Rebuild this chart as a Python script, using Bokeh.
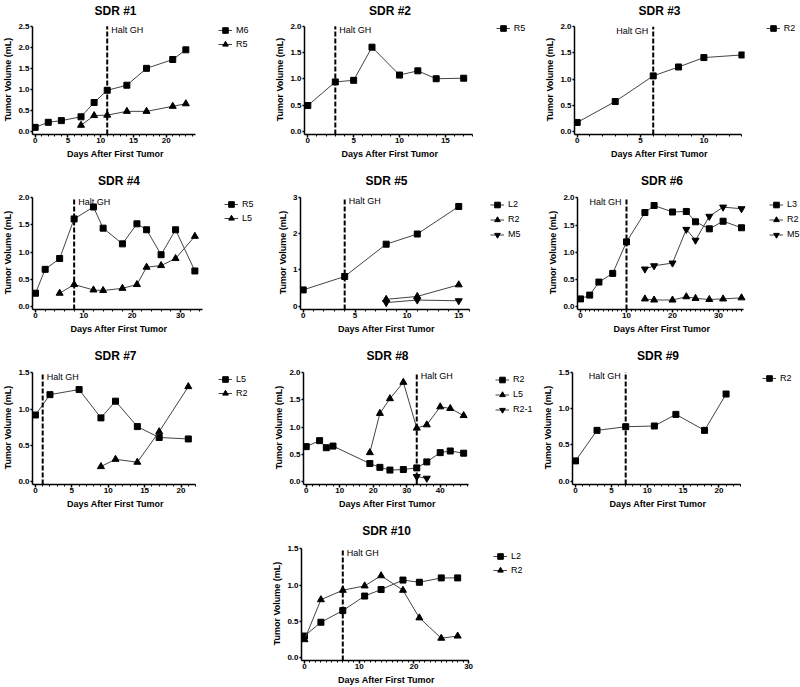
from math import pi
from bokeh.plotting import figure
from bokeh.models import (Range1d, SingleIntervalTicker, FixedTicker, PrintfTickFormatter,
                          LinearAxis, Legend, LegendItem, Spacer)
from bokeh.layouts import row, column
from bokeh.embed import file_html
from bokeh.resources import INLINE
from bokeh.core.properties import value

# ---------------- data (days after first tumor, tumor volume in mL) ----------------
sdr1_m6_days = [0, 2, 4, 7, 9, 11, 14, 17, 21, 23]
sdr1_m6_vol = [0.10, 0.22, 0.26, 0.35, 0.69, 0.98, 1.10, 1.50, 1.71, 1.94]
sdr1_r5_days = [7, 9, 11, 14, 17, 21, 23]
sdr1_r5_vol = [0.15, 0.38, 0.39, 0.48, 0.48, 0.60, 0.66]
sdr1_halt = 11

sdr2_r5_days = [0, 3, 5, 7, 10, 12, 14, 17]
sdr2_r5_vol = [0.49, 0.94, 0.97, 1.60, 1.07, 1.15, 1.00, 1.01]
sdr2_halt = 3

sdr3_r2_days = [0, 3, 6, 8, 10, 13]
sdr3_r2_vol = [0.17, 0.57, 1.06, 1.23, 1.41, 1.46]
sdr3_halt = 6

sdr4_r5_days = [0, 2, 5, 8, 12, 14, 18, 21, 23, 26, 29, 33]
sdr4_r5_vol = [0.24, 0.68, 0.88, 1.61, 1.83, 1.44, 1.15, 1.52, 1.41, 0.95, 1.41, 0.65]
sdr4_l5_days = [5, 8, 12, 14, 18, 21, 23, 26, 29, 33]
sdr4_l5_vol = [0.24, 0.40, 0.30, 0.29, 0.33, 0.40, 0.72, 0.75, 0.88, 1.29]
sdr4_halt = 8

sdr5_l2_days = [0, 4, 8, 11, 15]
sdr5_l2_vol = [0.45, 0.82, 1.71, 1.99, 2.75]
sdr5_r2_days = [8, 11, 15]
sdr5_r2_vol = [0.19, 0.27, 0.59]
sdr5_m5_days = [8, 11, 15]
sdr5_m5_vol = [0.10, 0.17, 0.15]
sdr5_halt = 4

sdr6_l3_days = [0, 2, 4, 7, 10, 14, 16, 20, 23, 25, 28, 31, 35]
sdr6_l3_vol = [0.14, 0.21, 0.45, 0.61, 1.19, 1.73, 1.86, 1.74, 1.75, 1.56, 1.43, 1.57, 1.45]
sdr6_r2_days = [14, 16, 20, 23, 25, 28, 31, 35]
sdr6_r2_vol = [0.14, 0.12, 0.12, 0.18, 0.15, 0.13, 0.14, 0.16]
sdr6_m5_days = [14, 16, 20, 23, 25, 28, 31, 35]
sdr6_m5_vol = [0.69, 0.75, 0.80, 1.42, 1.22, 1.66, 1.83, 1.80]
sdr6_halt = 10

sdr7_l5_days = [0, 2, 6, 9, 11, 14, 17, 21]
sdr7_l5_vol = [0.92, 1.20, 1.27, 0.88, 1.11, 0.76, 0.61, 0.59]
sdr7_r2_days = [9, 11, 14, 17, 21]
sdr7_r2_vol = [0.21, 0.31, 0.27, 0.69, 1.31]
sdr7_halt = 1

sdr8_r2_days = [0, 4, 6, 8, 19, 22, 25, 29, 33, 36, 40, 43, 47]
sdr8_r2_vol = [0.64, 0.75, 0.62, 0.65, 0.33, 0.26, 0.21, 0.22, 0.25, 0.36, 0.53, 0.56, 0.52]
sdr8_l5_days = [19, 22, 25, 29, 33, 36, 40, 43, 47]
sdr8_l5_vol = [0.53, 1.25, 1.52, 1.82, 0.98, 1.04, 1.37, 1.34, 1.21]
sdr8_r21_days = [33, 36]
sdr8_r21_vol = [0.09, 0.06]
sdr8_halt = 33

sdr9_r2_days = [0, 3, 7, 11, 14, 18, 21]
sdr9_r2_vol = [0.28, 0.70, 0.75, 0.76, 0.92, 0.70, 1.20]
sdr9_halt = 7

sdr10_l2_days = [0, 3, 7, 11, 14, 18, 21, 25, 28]
sdr10_l2_vol = [0.30, 0.49, 0.65, 0.85, 0.94, 1.07, 1.04, 1.10, 1.10]
sdr10_r2_days = [0, 3, 7, 11, 14, 18, 21, 25, 28]
sdr10_r2_vol = [0.25, 0.80, 0.93, 0.99, 1.13, 0.93, 0.55, 0.27, 0.30]
sdr10_halt = 7

halt_label = "Halt GH"
x_title = "Days After First Tumor"
y_title = "Tumor Volume (mL)"

# ---------------- layout geometry (page pixels; the Bokeh page has no body margin) ----------------
COL_L = [0, 268, 536]
COL_W = [268, 268, 264]
ROW_T = [0, 169, 344, 518]
ROW_H = [169, 175, 174, 169]
HEAD_STANDOFF = [7, 8, 8, 9]
PAD_L, PAD_R, PAD_T, PAD_B = 3, 3, 2, 3
RB = 6  # right border of each plot, before its legend strip
FONT = "Liberation Sans"

specs = [
    dict(title="SDR #1", col=0, row=0, x0=31.7, ppd=6.67, xmax=24.5, xint=5, xminor=5,
         y0=131.0, ppu=43.3, ymax=2.5, yint=0.5, yfmt="%.1f", halt=sdr1_halt, side="right",
         series=[("M6", sdr1_m6_days, sdr1_m6_vol), ("R5", sdr1_r5_days, sdr1_r5_vol)],
         lpos=(225, 30)),
    dict(title="SDR #2", col=1, row=0, x0=307.3, ppd=9.17, xmax=18, xint=5, xminor=5,
         y0=131.7, ppu=55.0, ymax=2.0, yint=0.5, yfmt="%.1f", halt=sdr2_halt, side="right",
         series=[("R5", sdr2_r5_days, sdr2_r5_vol)],
         lpos=(502.7, 29)),
    dict(title="SDR #3", col=2, row=0, x0=576.7, ppd=12.67, xmax=13, xint=5, xminor=5,
         y0=131.7, ppu=54.7, ymax=2.0, yint=0.5, yfmt="%.1f", halt=sdr3_halt, side="left",
         series=[("R2", sdr3_r2_days, sdr3_r2_vol)],
         lpos=(772.7, 29)),
    dict(title="SDR #4", col=0, row=1, x0=35.0, ppd=4.83, xmax=34.5, xint=10, xminor=5,
         y0=306.7, ppu=54.7, ymax=2.0, yint=0.5, yfmt="%.1f", halt=sdr4_halt, side="right",
         series=[("R5", sdr4_r5_days, sdr4_r5_vol), ("L5", sdr4_l5_days, sdr4_l5_vol)],
         lpos=(231, 205)),
    dict(title="SDR #5", col=1, row=1, x0=302.7, ppd=10.37, xmax=16, xint=5, xminor=5,
         y0=305.7, ppu=36.6, ymax=3, yint=1, yfmt="%d", halt=sdr5_halt, side="right",
         series=[("L2", sdr5_l2_days, sdr5_l2_vol), ("R2", sdr5_r2_days, sdr5_r2_vol),
                 ("M5", sdr5_m5_days, sdr5_m5_vol)],
         lpos=(497, 204)),
    dict(title="SDR #6", col=2, row=1, x0=580.0, ppd=4.6, xmax=35.5, xint=10, xminor=10,
         y0=306.0, ppu=54.8, ymax=2.0, yint=0.5, yfmt="%.1f", halt=sdr6_halt, side="left",
         series=[("L3", sdr6_l3_days, sdr6_l3_vol), ("R2", sdr6_r2_days, sdr6_r2_vol),
                 ("M5", sdr6_m5_days, sdr6_m5_vol)],
         lpos=(776, 204)),
    dict(title="SDR #7", col=0, row=2, x0=30.0, ppd=7.5, xmax=22, xint=5, xminor=5,
         y0=482.3, ppu=73.3, ymax=1.5, yint=0.5, yfmt="%.1f", halt=sdr7_halt, side="right",
         series=[("L5", sdr7_l5_days, sdr7_l5_vol), ("R2", sdr7_r2_days, sdr7_r2_vol)],
         lpos=(225, 380)),
    dict(title="SDR #8", col=1, row=2, x0=305.7, ppd=3.35, xmax=48.5, xint=10, xminor=5,
         y0=481.0, ppu=55.0, ymax=2.0, yint=0.5, yfmt="%.1f", halt=sdr8_halt, side="right",
         series=[("R2", sdr8_r2_days, sdr8_r2_vol), ("L5", sdr8_l5_days, sdr8_l5_vol),
                 ("R2-1", sdr8_r21_days, sdr8_r21_vol)],
         lpos=(502, 379)),
    dict(title="SDR #9", col=2, row=2, x0=575.0, ppd=7.17, xmax=23, xint=5, xminor=5,
         y0=481.7, ppu=73.3, ymax=1.5, yint=0.5, yfmt="%.1f", halt=sdr9_halt, side="left",
         series=[("R2", sdr9_r2_days, sdr9_r2_vol)],
         lpos=(769, 379)),
    dict(title="SDR #10", col=1, row=3, x0=304.0, ppd=5.47, xmax=30, xint=10, xminor=10,
         y0=658.3, ppu=73.3, ymax=1.5, yint=0.5, yfmt="%.1f", halt=sdr10_halt, side="right",
         series=[("L2", sdr10_l2_days, sdr10_l2_vol), ("R2", sdr10_r2_days, sdr10_r2_vol)],
         lpos=(500, 557)),
]

MARKERS = ["square", "triangle", "inverted_triangle"]
MSIZE = [6, 7, 7]
LINE_COLOR = "#444444"


def style_axis(ax, tick_out, standoff, label_standoff):
    ax.axis_line_width = 1.5
    ax.axis_line_color = "black"
    ax.major_tick_line_width = 1.5
    ax.major_tick_line_color = "black"
    ax.major_tick_in = 0
    ax.major_tick_out = tick_out
    ax.minor_tick_in = 0
    ax.minor_tick_out = 2
    ax.minor_tick_line_width = 1
    ax.minor_tick_line_color = "black"
    ax.major_label_text_font = FONT
    ax.major_label_text_font_style = "bold"
    ax.major_label_text_font_size = "8px"
    ax.major_label_text_color = "black"
    ax.major_label_standoff = standoff
    ax.axis_label_standoff = label_standoff
    ax.axis_label_text_font = FONT
    ax.axis_label_text_font_style = "bold"
    ax.axis_label_text_font_size = "9px"
    ax.axis_label_text_color = "black"


def build(s):
    c, r = s["col"], s["row"]
    fx, fy, fw, fh = COL_L[c], ROW_T[r], COL_W[c], ROW_H[r]
    X0 = s["x0"]; ppd = s["ppd"]
    Y0 = s["y0"]; ppu = s["ppu"]
    xmax, ymax = s["xmax"], s["ymax"]
    fl = int(round(X0 - PAD_L)); fr = int(round(X0 + xmax * ppd + PAD_R))
    ft = int(round(Y0 - ymax * ppu - PAD_T)); fb = int(round(Y0 + PAD_B))
    xstart, xend = (fl - X0) / ppd, (fr - X0) / ppd
    ystart, yend = (Y0 - fb) / ppu, (Y0 - ft) / ppu
    btop, bbot = ft - fy, fy + fh - fb
    main_w = fr + RB - fx
    p = figure(width=main_w, height=fh, output_backend="svg", toolbar_location=None, title=None,
               min_border_left=fl - fx, min_border_right=RB,
               min_border_top=btop, min_border_bottom=bbot,
               x_range=Range1d(xstart, xend), y_range=Range1d(ystart, yend),
               outline_line_color=None, background_fill_color="white",
               border_fill_color="white")
    p.grid.visible = False

    xa = p.xaxis[0]; ya = p.yaxis[0]
    xa.bounds = (xstart, xmax); ya.bounds = (ystart, ymax)
    xa.ticker = SingleIntervalTicker(interval=s["xint"], num_minor_ticks=s["xminor"])
    ya.ticker = SingleIntervalTicker(interval=s["yint"], num_minor_ticks=0)
    ya.formatter = PrintfTickFormatter(format=s["yfmt"])
    style_axis(xa, 3, 0, 3)
    style_axis(ya, 2, 1, 2)
    ya.minor_tick_line_color = None
    xa.axis_label = x_title
    ya.axis_label = y_title

    # panel heading, drawn as the label of a tick-less axis above the frame
    head = LinearAxis(ticker=FixedTicker(ticks=[]), axis_label=s["title"],
                      axis_line_color=None, major_tick_line_color=None,
                      minor_tick_line_color=None, major_tick_out=0, major_tick_in=0,
                      minor_tick_out=0, minor_tick_in=0, major_label_standoff=0,
                      axis_label_standoff=HEAD_STANDOFF[r], axis_label_text_font=FONT,
                      axis_label_text_font_size="12px", axis_label_text_font_style="bold",
                      axis_label_text_color="black")
    p.add_layout(head, "above")

    for i, (name, xs, ys) in enumerate(s["series"]):
        p.line(xs, ys, line_color=LINE_COLOR, line_width=1)
        p.scatter(xs, ys, marker=MARKERS[i], size=MSIZE[i],
                  fill_color="black", line_color="black")

    h = s["halt"]
    p.segment(x0=[h], y0=[ystart], x1=[h], y1=[ymax], line_color="black",
              line_width=2, line_dash="5 2")
    right = s["side"] == "right"
    p.text(x=[h], y=[ymax], text=[halt_label], text_align="left" if right else "right",
           text_baseline="top", x_offset=4 if right else -5, y_offset=-1,
           text_font=value(FONT), text_font_size="9px", text_color="black")

    # legend strip to the right of the plot; its frame shares the plot's vertical extent.
    # The strip's renderers carry the same series, but its ranges keep them out of view,
    # so only the legend keys are seen there.
    lx0 = fx + main_w
    lw = fx + fw - lx0
    lf = figure(width=lw, height=fh, output_backend="svg", toolbar_location=None, title=None,
                x_axis_location=None, y_axis_location=None,
                min_border_left=0, min_border_right=0,
                min_border_top=btop, min_border_bottom=bbot,
                x_range=Range1d(-20, -10), y_range=Range1d(-20, -10),
                outline_line_color=None, background_fill_color="white",
                border_fill_color="white")
    for g in lf.grid:
        g.visible = False
    items = []
    for i, (name, xs, ys) in enumerate(s["series"]):
        lr = lf.line(xs, ys, line_color=LINE_COLOR, line_width=1)
        sr = lf.scatter(xs, ys, marker=MARKERS[i], size=MSIZE[i],
                        fill_color="black", line_color="black")
        items.append(LegendItem(label=name, renderers=[lr, sr]))
    n = len(items)
    pitch = 14 if n <= 2 else 15
    lleft = s["lpos"][0] - 7
    ltop = s["lpos"][1] - pitch / 2
    lbottom = ltop + n * pitch
    leg = Legend(items=items, location=(lleft - lx0, fb - lbottom), orientation="vertical",
                 glyph_width=14, glyph_height=pitch, label_height=pitch, label_width=8,
                 spacing=0, padding=0, margin=0, label_standoff=4,
                 border_line_color=None, background_fill_alpha=0,
                 label_text_font=FONT, label_text_font_size="9px",
                 label_text_color="black")
    lf.add_layout(leg)
    return p, lf


built = [build(s) for s in specs]
def cells(idx):
    out = []
    for i in idx:
        out.extend(built[i])
    return out

layout = column(
    row(*cells([0, 1, 2])),
    row(*cells([3, 4, 5])),
    row(*cells([6, 7, 8])),
    row(Spacer(width=COL_W[0], height=ROW_H[3]), *cells([9])),
)

open("out.html", "w").write(file_html(layout, INLINE, "SDR tumor volumes"))
